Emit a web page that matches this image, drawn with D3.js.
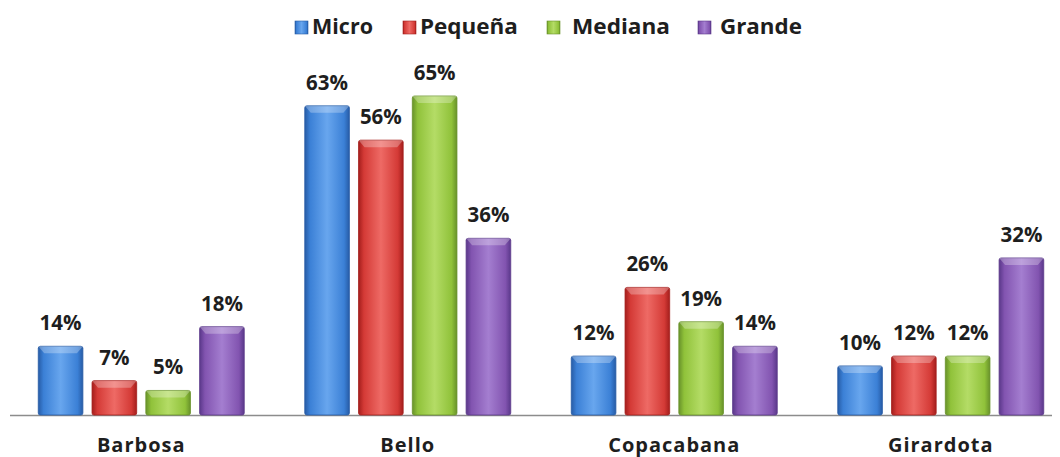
<!DOCTYPE html>
<html><head><meta charset="utf-8">
<script src="https://cdn.jsdelivr.net/npm/d3@7"></script>
<style>body{margin:0;background:#fff}svg{display:block}</style>
</head><body><svg id="c" width="1060" height="457"></svg>
<script>
const categories = ["Barbosa","Bello","Copacabana","Girardota"];
const seriesNames = ["Micro","Pequeña","Mediana","Grande"];
const micro   = [14, 63, 12, 10];
const pequena = [7, 56, 26, 12];
const mediana = [5, 65, 19, 12];
const grande  = [18, 36, 14, 32];
const seriesValues = [micro, pequena, mediana, grande];
const colors = ["#3b80d6","#d43a36","#90c23a","#8254b0"];
const darks  = ["#275ca6","#a41e1c","#68922a","#5a388a"];
const lights = ["#68a6ee","#ee6a65","#b4dc66","#a47ed0"];

const svg = d3.select("#c");
const font = "'Open Sans', 'Lato', sans-serif";
const x0 = d3.scaleBand().domain(categories).range([8, 1074]).paddingInner(0).paddingOuter(0);
const x1 = d3.scaleBand().domain(seriesNames).range([-103, 103]).paddingInner(0.17);
const y = d3.scaleLinear().domain([0, 65]).range([415, 96]);

const defs = svg.append("defs");
seriesNames.forEach((s,i)=>{
  const g = defs.append("linearGradient").attr("id","g"+i).attr("x1","0").attr("x2","1").attr("y1","0").attr("y2","0");
  g.append("stop").attr("offset","0").attr("stop-color",darks[i]);
  g.append("stop").attr("offset","0.12").attr("stop-color",colors[i]);
  g.append("stop").attr("offset","0.5").attr("stop-color",lights[i]);
  g.append("stop").attr("offset","0.88").attr("stop-color",colors[i]);
  g.append("stop").attr("offset","1").attr("stop-color",darks[i]);
});

// axis line
svg.append("line").attr("x1",10).attr("x2",1052).attr("y1",y(0)+0.5).attr("y2",y(0)+0.5)
  .attr("stroke","#8c8c8c").attr("stroke-width",1.5);

const data = [];
categories.forEach((c,ci)=>seriesNames.forEach((s,si)=>data.push({c,s,si,v:seriesValues[si][ci]})));

const bx = d=> x0(d.c) + x0.bandwidth()/2 + x1(d.s);
const bw = x1.bandwidth();

const g = svg.append("g");
g.selectAll("rect.bar").data(data).join("rect").attr("class","bar")
  .attr("x",bx).attr("width",bw)
  .attr("y",d=>y(d.v)).attr("height",d=>y(0)-y(d.v))
  .attr("fill",d=>"url(#g"+d.si+")")
  .attr("stroke",d=>darks[d.si]).attr("stroke-width",0.8).attr("rx",2);
// top bevel
g.selectAll("path.bev").data(data).join("path").attr("class","bev")
  .attr("d",d=>{const xl=bx(d), yt=y(d.v); return `M${xl},${yt} L${xl+bw},${yt} L${xl+bw-6},${yt+7} L${xl+6},${yt+7} Z`;})
  .attr("fill","#ffffff").attr("opacity",0.28);

// value labels
g.selectAll("text.val").data(data).join("text").attr("class","val")
  .attr("x",d=>bx(d)+bw/2).attr("y",d=>y(d.v)-16)
  .attr("text-anchor","middle").attr("font-family",font).attr("font-weight","bold")
  .attr("font-size",20.5).attr("fill","#1e1e1e").text(d=>d.v+"%");

// category labels
svg.selectAll("text.cat").data(categories).join("text").attr("class","cat")
  .attr("x",d=>x0(d)+x0.bandwidth()/2).attr("y",452)
  .attr("text-anchor","middle").attr("font-family",font).attr("font-weight","bold")
  .attr("font-size",20).attr("letter-spacing",1).attr("fill","#1e1e1e").text(d=>d);

// legend
const legSq = [295, 403, 547, 698];
const legTx = [312, 420, 572, 720];
const legW = [61, 98, 98, 82];
const leg = svg.append("g");
seriesNames.forEach((s,i)=>{
  leg.append("rect").attr("x",legSq[i]).attr("y",21).attr("width",13).attr("height",13)
    .attr("fill","url(#g"+i+")").attr("stroke",darks[i]).attr("stroke-width",0.6);
  const t = leg.append("text").attr("font-family",font)
    .attr("font-weight","bold").attr("font-size",21).attr("fill","#1e1e1e").text(s);
  const w = t.node().getComputedTextLength();
  t.attr("transform",`translate(${legTx[i]},33.5) scale(${legW[i]/w},1)`);
});
</script></body></html>
